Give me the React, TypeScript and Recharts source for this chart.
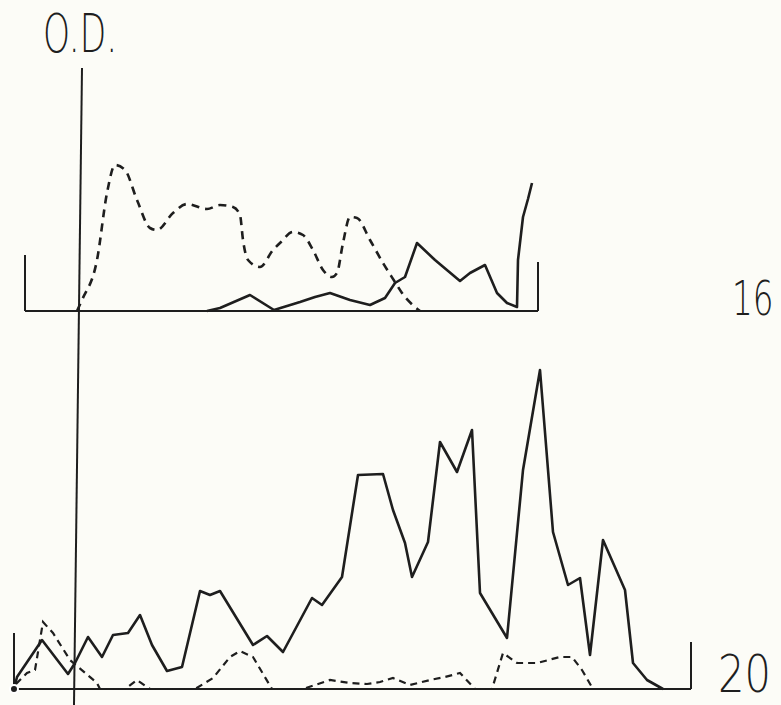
import { LineChart, Line, XAxis, YAxis, ReferenceLine } from 'recharts'

// x: distance from origin (cm), y: optical density above each trace's baseline
const topDashed = [
  { x: -0.1, y: 0 }, { x: 0.4, y: 0.11 }, { x: 1.9, y: 0.51 }, { x: 2.9, y: 1.18 },
  { x: 3.7, y: 1.46 }, { x: 4.7, y: 1.41 }, { x: 5.9, y: 1.11 }, { x: 7.2, y: 0.83 },
  { x: 7.9, y: 0.81 }, { x: 9.5, y: 0.98 }, { x: 10.9, y: 1.07 }, { x: 12.9, y: 1.02 },
  { x: 14.2, y: 1.06 }, { x: 15.5, y: 1.04 }, { x: 16.2, y: 0.96 }, { x: 16.5, y: 0.71 },
  { x: 17.0, y: 0.51 }, { x: 18.2, y: 0.44 }, { x: 19.5, y: 0.61 }, { x: 20.2, y: 0.68 },
  { x: 21.5, y: 0.79 }, { x: 22.5, y: 0.76 }, { x: 23.5, y: 0.61 }, { x: 24.5, y: 0.41 },
  { x: 25.4, y: 0.34 }, { x: 25.9, y: 0.38 }, { x: 26.5, y: 0.68 }, { x: 27.2, y: 0.94 },
  { x: 27.9, y: 0.93 }, { x: 29.2, y: 0.71 }, { x: 30.5, y: 0.48 }, { x: 31.7, y: 0.29 },
  { x: 32.4, y: 0.18 }, { x: 34.2, y: 0 },
]

const topSolid = [
  { x: 12.9, y: 0 }, { x: 14.2, y: 0.03 }, { x: 17.2, y: 0.16 }, { x: 19.6, y: 0.01 },
  { x: 22.2, y: 0.09 }, { x: 23.7, y: 0.14 }, { x: 25.2, y: 0.18 }, { x: 27.2, y: 0.11 },
  { x: 29.2, y: 0.06 }, { x: 30.7, y: 0.13 }, { x: 31.7, y: 0.28 }, { x: 32.7, y: 0.34 },
  { x: 33.9, y: 0.68 }, { x: 35.7, y: 0.51 }, { x: 38.2, y: 0.3 }, { x: 39.2, y: 0.38 },
  { x: 40.7, y: 0.46 }, { x: 41.9, y: 0.18 }, { x: 42.9, y: 0.08 }, { x: 43.9, y: 0.04 },
  { x: 44.0, y: 0.51 }, { x: 44.5, y: 0.94 }, { x: 45.0, y: 1.12 }, { x: 45.4, y: 1.28 },
]

const bottomSolid = [
  { x: -6.4, y: 0 }, { x: -6.1, y: 0.12 }, { x: -3.6, y: 0.49 }, { x: -1.0, y: 0.15 },
  { x: -0.3, y: 0.26 }, { x: 1.0, y: 0.52 }, { x: 2.4, y: 0.32 }, { x: 3.5, y: 0.54 },
  { x: 5.0, y: 0.56 }, { x: 6.2, y: 0.74 }, { x: 7.4, y: 0.44 }, { x: 8.9, y: 0.18 },
  { x: 10.4, y: 0.22 }, { x: 12.2, y: 0.98 }, { x: 13.2, y: 0.94 }, { x: 14.2, y: 0.98 },
  { x: 17.5, y: 0.44 }, { x: 18.9, y: 0.53 }, { x: 20.5, y: 0.37 }, { x: 23.4, y: 0.91 },
  { x: 24.4, y: 0.84 }, { x: 26.4, y: 1.12 }, { x: 28.0, y: 2.14 }, { x: 30.5, y: 2.15 },
  { x: 31.5, y: 1.79 }, { x: 32.7, y: 1.46 }, { x: 33.4, y: 1.12 }, { x: 35.0, y: 1.47 },
  { x: 36.2, y: 2.47 }, { x: 37.9, y: 2.17 }, { x: 39.4, y: 2.59 }, { x: 40.2, y: 0.96 },
  { x: 42.9, y: 0.51 }, { x: 44.5, y: 2.19 }, { x: 46.2, y: 3.19 }, { x: 47.5, y: 1.57 },
  { x: 49.0, y: 1.04 }, { x: 50.2, y: 1.11 }, { x: 51.2, y: 0.34 }, { x: 52.5, y: 1.49 },
  { x: 54.7, y: 0.99 }, { x: 55.5, y: 0.26 }, { x: 56.9, y: 0.09 }, { x: 58.5, y: 0 },
]

const bottomDashed = [
  { x: -6.2, y: 0.05 }, { x: -5.1, y: 0.16 }, { x: -4.3, y: 0.19 }, { x: -3.5, y: 0.67 },
  { x: -2.5, y: 0.56 }, { x: -0.8, y: 0.29 }, { x: 1.9, y: 0.06 }, { x: 2.2, y: 0 },
  { x: 4.7, y: 0 }, { x: 5.9, y: 0.09 }, { x: 7.2, y: 0 }, { x: 11.7, y: 0 },
  { x: 13.5, y: 0.11 }, { x: 15.2, y: 0.32 }, { x: 16.2, y: 0.38 }, { x: 17.5, y: 0.32 },
  { x: 19.4, y: 0 }, { x: 22.5, y: 0 }, { x: 25.2, y: 0.09 }, { x: 27.2, y: 0.06 },
  { x: 28.9, y: 0.05 }, { x: 30.2, y: 0.07 }, { x: 31.5, y: 0.11 }, { x: 33.2, y: 0.04 },
  { x: 35.2, y: 0.09 }, { x: 36.7, y: 0.12 }, { x: 38.2, y: 0.16 }, { x: 39.7, y: 0 },
  { x: 41.4, y: 0 }, { x: 42.5, y: 0.36 }, { x: 43.9, y: 0.26 }, { x: 45.9, y: 0.26 },
  { x: 48.2, y: 0.32 }, { x: 49.4, y: 0.32 }, { x: 50.4, y: 0.19 }, { x: 51.5, y: 0 },
]

const axisLabel = 'O.D.'
const panelLabels = ['16', '20']

const INK = '#1e1e1e'
const W = 781
const H = 705

// each panel: [left, right] extent of its baseline bracket and the bracket heights
const topFrame = { left: -5.3, right: 46, hl: 0.56, hr: 0.49 }
const bottomFrame = { left: -6.4, right: 61.3, hl: 0.56, hr: 0.47 }

function bracket(id: string, f: typeof topFrame) {
  const seg = (a: any, b: any, k: string) => (
    <ReferenceLine
      key={id + k}
      yAxisId={id}
      segment={[a, b]}
      stroke={INK}
      strokeWidth={2}
      ifOverflow="visible"
    />
  )
  return [
    seg({ x: f.left, y: f.hl }, { x: f.left, y: 0 }, 'l'),
    seg({ x: f.left, y: 0 }, { x: f.right, y: 0 }, 'b'),
    seg({ x: f.right, y: 0 }, { x: f.right, y: f.hr }, 'r'),
  ]
}

export default function App() {
  const font = { fontFamily: '"DejaVu Sans", sans-serif', fontWeight: 200, fill: INK }
  return (
    <div style={{ position: 'absolute', left: 0, top: 0, width: W, height: H, background: '#fcfcf7' }}>
      <LineChart width={W} height={H} margin={{ top: 0, right: 0, bottom: 0, left: 0 }}>
        <XAxis type="number" dataKey="x" domain={[-7.8, 70.3]} hide allowDataOverflow />
        <YAxis yAxisId="top" type="number" domain={[-3.94, 3.11]} hide allowDataOverflow />
        <YAxis yAxisId="bottom" type="number" domain={[-0.16, 6.89]} hide allowDataOverflow />
        <ReferenceLine
          yAxisId="bottom"
          segment={[{ x: 0.4, y: 6.21 }, { x: -0.4, y: -0.16 }]}
          stroke={INK}
          strokeWidth={2}
          ifOverflow="visible"
        />
        {bracket('top', topFrame)}
        {bracket('bottom', bottomFrame)}
        <Line
          yAxisId="top"
          data={topDashed}
          dataKey="y"
          type="monotone"
          stroke={INK}
          strokeWidth={2.6}
          strokeDasharray="8 6"
          dot={false}
          isAnimationActive={false}
        />
        <Line
          yAxisId="top"
          data={topSolid}
          dataKey="y"
          type="linear"
          stroke={INK}
          strokeWidth={2.6}
          strokeLinejoin="round"
          dot={false}
          isAnimationActive={false}
        />
        <Line
          yAxisId="bottom"
          data={bottomDashed}
          dataKey="y"
          type="linear"
          stroke={INK}
          strokeWidth={2.2}
          strokeDasharray="7 5"
          dot={false}
          isAnimationActive={false}
        />
        <Line
          yAxisId="bottom"
          data={bottomSolid}
          dataKey="y"
          type="linear"
          stroke={INK}
          strokeWidth={2.6}
          strokeLinejoin="round"
          dot={false}
          isAnimationActive={false}
        />
      </LineChart>
      <svg width={W} height={H} style={{ position: 'absolute', left: 0, top: 0, pointerEvents: 'none' }}>
        <text transform="translate(43,52) scale(0.65,1)" fontSize={53} {...font}>
          {axisLabel}
        </text>
        <text transform="translate(732,315) scale(0.68,1)" fontSize={48} {...font}>
          {panelLabels[0]}
        </text>
        <text transform="translate(718,692) scale(0.8,1)" fontSize={52} {...font}>
          {panelLabels[1]}
        </text>
      </svg>
    </div>
  )
}
